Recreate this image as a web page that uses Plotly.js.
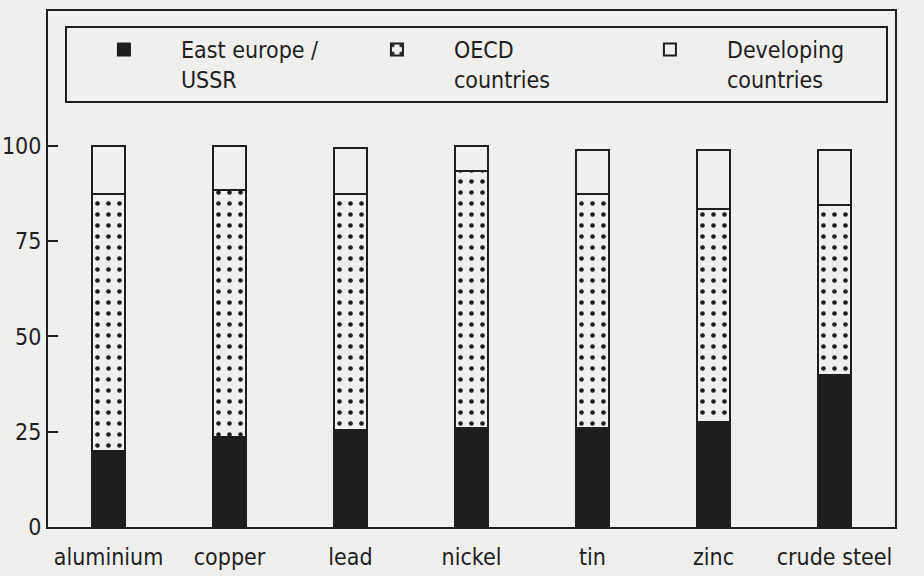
<!DOCTYPE html>
<html>
<head>
<meta charset="utf-8">
<script src="https://cdn.plot.ly/plotly-3.0.1.min.js"></script>
<style>html,body{margin:0;padding:0;background:#efefed;}</style>
</head>
<body>
<div id="chart" style="width:924px;height:576px;"></div>
<script>
const categories = ['aluminium', 'copper', 'lead', 'nickel', 'tin', 'zinc', 'crude steel'];
const eastEurope = [20, 23.5, 25.5, 26, 26, 27.5, 40];
const oecd = [67.5, 65, 62, 67.5, 61.5, 56, 44.5];
const developing = [12.5, 11.5, 12, 6.5, 11.5, 15.5, 14.5];
const yTicks = [0, 25, 50, 75, 100];
const seriesNames = ['East europe /<br>USSR', 'OECD<br>countries', 'Developing<br>countries'];

const BG = '#efefed';
const INK = '#1e1e1e';
const FONT = '"DejaVu Sans Condensed", "Liberation Sans Narrow", sans-serif';

const common = {type: 'bar', x: categories, width: 0.27, hoverinfo: 'skip'};
const traces = [
  Object.assign({}, common, {
    name: seriesNames[0], y: eastEurope,
    marker: {color: INK, line: {color: INK, width: 2}}
  }),
  Object.assign({}, common, {
    name: seriesNames[1], y: oecd,
    marker: {color: BG, line: {color: INK, width: 2},
      pattern: {shape: '.', size: 11, solidity: 0.14, fgcolor: INK, bgcolor: BG, fillmode: 'replace'}}
  }),
  Object.assign({}, common, {
    name: seriesNames[2], y: developing,
    marker: {color: BG, line: {color: INK, width: 2}}
  })
];

const layout = {
  width: 924, height: 576,
  margin: {l: 48, r: 29, t: 11, b: 49},
  paper_bgcolor: BG, plot_bgcolor: BG,
  barmode: 'stack',
  font: {family: FONT, size: 23, color: INK},
  showlegend: true,
  legend: {
    orientation: 'h', x: 0.02, xanchor: 'left', y: 0.971, yanchor: 'top',
    bordercolor: INK, borderwidth: 2, bgcolor: 'rgba(0,0,0,0)',
    itemwidth: 104, entrywidth: 154, entrywidthmode: 'pixels', valign: 'top', traceorder: 'normal',
    font: {family: FONT, size: 23, color: INK}
  },
  xaxis: {
    showline: true, linecolor: INK, linewidth: 2, mirror: true,
    showgrid: false, zeroline: false, ticks: '', ticklabelstandoff: 8,
    range: [-0.5, 6.5], fixedrange: true
  },
  yaxis: {
    range: [0, 135.4], tickvals: yTicks, ticktext: yTicks.map(String),
    showline: true, linecolor: INK, linewidth: 2, mirror: true,
    showgrid: false, zeroline: false,
    ticks: 'inside', ticklen: 10, tickwidth: 2, tickcolor: INK,
    ticklabelstandoff: 0, fixedrange: true
  }
};

Plotly.newPlot('chart', traces, layout, {staticPlot: true, displayModeBar: false});
</script>
</body>
</html>
